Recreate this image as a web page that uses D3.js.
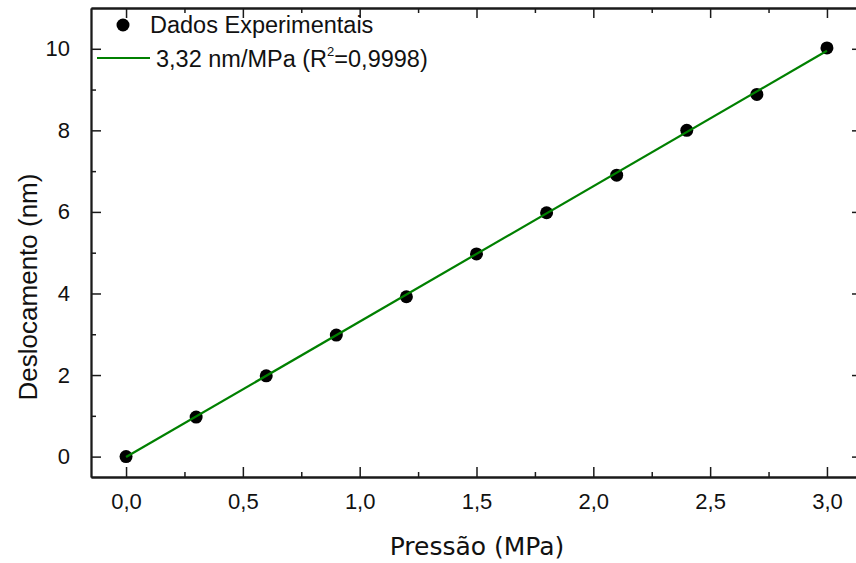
<!DOCTYPE html>
<html>
<head>
<meta charset="utf-8">
<script src="https://cdn.jsdelivr.net/npm/d3@7"></script>
<style>
  html, body { margin: 0; padding: 0; background: #fff; }
  svg { display: block; }
</style>
</head>
<body>
<svg id="chart" width="856" height="563"></svg>
<script>
// Pressure (MPa) applied and measured displacement (nm)
const pressure = [0.0, 0.3, 0.6, 0.9, 1.2, 1.5, 1.8, 2.1, 2.4, 2.7, 3.0];
const displacement = [0.0, 0.97, 1.98, 2.98, 3.92, 4.97, 5.98, 6.90, 8.00, 8.88, 10.02];

// Linear fit: slope (nm/MPa) and intercept (nm)
const fitSlope = 3.32;
const fitIntercept = -0.01;
const fitR2 = "0,9998";

const xTicks = [0, 0.5, 1.0, 1.5, 2.0, 2.5, 3.0];
const yTicks = [0, 2, 4, 6, 8, 10];
const xMinor = d3.range(0, 3.01, 0.25);
const yMinor = d3.range(0, 11, 1);

const svg = d3.select("#chart");
const plotLeft = 91, plotRight = 862, plotTop = 8, plotBottom = 477;

const x = d3.scaleLinear().domain([-0.15, 3.15]).range([plotLeft, plotRight]);
const y = d3.scaleLinear().domain([-0.5, 11]).range([plotBottom, plotTop]);

const fmt = d => d.toFixed(1).replace(".", ",");
const axisColor = "#1a1a1a";
const tickFont = "'Liberation Sans', Arial, sans-serif";

// Axes with inward ticks on all four sides
function styleAxis(g) {
  g.select(".domain").attr("stroke", axisColor).attr("stroke-width", 1.8);
  g.selectAll(".tick line").attr("stroke", axisColor).attr("stroke-width", 1.5);
  g.selectAll("text").attr("fill", "#111").style("font-family", tickFont).style("font-size", "22px");
}

// Minor ticks
const minorX = xMinor.filter(v => !xTicks.some(t => Math.abs(t - v) < 1e-9));
const minorY = yMinor.filter(v => !yTicks.includes(v));

const gBottom = svg.append("g").attr("transform", `translate(0,${plotBottom})`)
  .call(d3.axisBottom(x).tickValues(xTicks).tickFormat(fmt).tickSizeInner(-10).tickSizeOuter(0).tickPadding(16));
styleAxis(gBottom);
gBottom.selectAll("text").attr("dy", "0.71em");

const gBottomMinor = svg.append("g").attr("transform", `translate(0,${plotBottom})`)
  .call(d3.axisBottom(x).tickValues(minorX).tickFormat("").tickSizeInner(-5).tickSizeOuter(0));
styleAxis(gBottomMinor);

const gTop = svg.append("g").attr("transform", `translate(0,${plotTop})`)
  .call(d3.axisTop(x).tickValues(xTicks).tickFormat("").tickSizeInner(-10).tickSizeOuter(0));
styleAxis(gTop);
const gTopMinor = svg.append("g").attr("transform", `translate(0,${plotTop})`)
  .call(d3.axisTop(x).tickValues(minorX).tickFormat("").tickSizeInner(-5).tickSizeOuter(0));
styleAxis(gTopMinor);

const gLeft = svg.append("g").attr("transform", `translate(${plotLeft},0)`)
  .call(d3.axisLeft(y).tickValues(yTicks).tickFormat(d3.format("d")).tickSizeInner(-10).tickSizeOuter(0).tickPadding(21));
styleAxis(gLeft);
const gLeftMinor = svg.append("g").attr("transform", `translate(${plotLeft},0)`)
  .call(d3.axisLeft(y).tickValues(minorY).tickFormat("").tickSizeInner(-5).tickSizeOuter(0));
styleAxis(gLeftMinor);

const gRight = svg.append("g").attr("transform", `translate(${plotRight},0)`)
  .call(d3.axisRight(y).tickValues(yTicks).tickFormat("").tickSizeInner(-10).tickSizeOuter(0));
styleAxis(gRight);
const gRightMinor = svg.append("g").attr("transform", `translate(${plotRight},0)`)
  .call(d3.axisRight(y).tickValues(minorY).tickFormat("").tickSizeInner(-5).tickSizeOuter(0));
styleAxis(gRightMinor);

// Data points
const data = pressure.map((p, i) => ({ p, d: displacement[i] }));
svg.append("g").selectAll("circle").data(data).join("circle")
  .attr("cx", d => x(d.p)).attr("cy", d => y(d.d)).attr("r", 6.5).attr("fill", "#000");

// Fit line over the measured range
const fitX = d3.extent(pressure);
svg.append("line")
  .attr("x1", x(fitX[0])).attr("y1", y(fitSlope * fitX[0] + fitIntercept))
  .attr("x2", x(fitX[1])).attr("y2", y(fitSlope * fitX[1] + fitIntercept))
  .attr("stroke", "#008000").attr("stroke-width", 2.2);

// Axis titles
svg.append("text")
  .attr("x", 477).attr("y", 555).attr("text-anchor", "middle")
  .style("font-family", "'DejaVu Sans', Verdana, sans-serif").style("font-size", "25px").attr("fill", "#111")
  .text("Pressão (MPa)");

svg.append("text")
  .attr("transform", "translate(37,287) rotate(-90)").attr("text-anchor", "middle")
  .style("font-family", tickFont).style("font-size", "26px").attr("fill", "#111")
  .text("Deslocamento (nm)");

// Legend
const legend = svg.append("g").style("font-family", tickFont).style("font-size", "23.5px").attr("fill", "#111");
legend.append("circle").attr("cx", 123).attr("cy", 25).attr("r", 6.5).attr("fill", "#000");
legend.append("text").attr("x", 150).attr("y", 33).text("Dados Experimentais");
legend.append("line").attr("x1", 97).attr("x2", 150).attr("y1", 58).attr("y2", 58)
  .attr("stroke", "#008000").attr("stroke-width", 2.2);
const fitLabel = legend.append("text").attr("x", 156).attr("y", 67);
fitLabel.append("tspan").text(`${fitSlope.toFixed(2).replace(".", ",")} nm/MPa (R`);
fitLabel.append("tspan").attr("dy", -11).style("font-size", "13px").text("2");
fitLabel.append("tspan").attr("dy", 11).text(`=${fitR2})`);
</script>
</body>
</html>
